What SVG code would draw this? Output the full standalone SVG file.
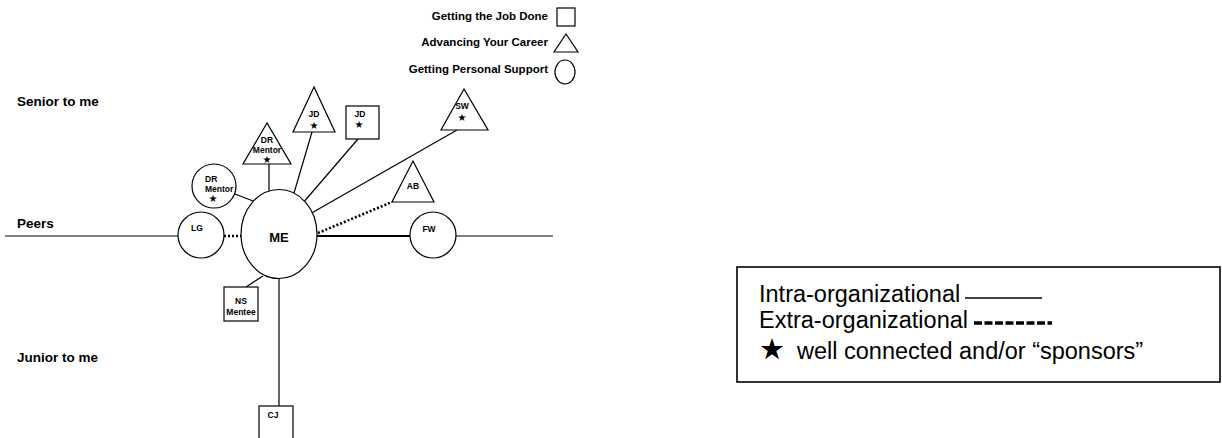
<svg xmlns="http://www.w3.org/2000/svg" width="1222" height="438" viewBox="0 0 1222 438">
<style>
.s{fill:#fff;stroke:#000;stroke-width:1.2}
.l{stroke:#000;stroke-width:1.2;fill:none}
.d{stroke:#000;stroke-width:2.6;stroke-dasharray:2 2;fill:none}
.n{font-family:"Liberation Sans",Arial,sans-serif;font-weight:bold;font-size:8.5px;fill:#000;text-anchor:middle}
.st{font-family:"DejaVu Sans",sans-serif;font-size:10px;fill:#000;text-anchor:middle}
.h{font-family:"Liberation Sans",Arial,sans-serif;font-weight:bold;font-size:13.5px;fill:#000}
.k{font-family:"Liberation Sans",Arial,sans-serif;font-weight:bold;font-size:11.5px;fill:#000;text-anchor:end}
.g{font-family:"Liberation Sans",Arial,sans-serif;font-size:23.5px;fill:#000}
</style>
<rect width="1222" height="438" fill="#fff"/>
<g id="connectors">
<line class="l" x1="5" y1="236" x2="178" y2="236"/>
<line class="l" x1="456" y1="236" x2="553" y2="236"/>
<line class="d" x1="224" y1="236" x2="242" y2="236"/>
<line class="l" x1="317" y1="236" x2="410" y2="236" style="stroke-width:2.2"/>
<line class="d" x1="318" y1="233" x2="392" y2="202"/>
<line class="l" x1="235" y1="194" x2="253" y2="201"/>
<line class="l" x1="269" y1="164" x2="269" y2="191"/>
<line class="l" x1="312" y1="132" x2="294" y2="193"/>
<line class="l" x1="358" y1="139" x2="304.6" y2="201"/>
<line class="l" x1="457" y1="130" x2="312.5" y2="212.6"/>
<line class="l" x1="263" y1="276" x2="246" y2="287"/>
<line class="l" x1="279" y1="278" x2="279" y2="406"/>
</g>
<g id="legend-types">
<text class="k" x="548" y="20">Getting the Job Done</text>
<rect class="s" x="557" y="8" width="18" height="18"/>
<text class="k" x="548" y="46">Advancing Your Career</text>
<polygon class="s" points="566,34 554,52 578,52"/>
<text class="k" x="548" y="73">Getting Personal Support</text>
<ellipse class="s" cx="565" cy="72" rx="10" ry="12"/>
</g>
<g id="levels">
<text class="h" x="17" y="106">Senior to me</text>
<text class="h" x="17" y="228">Peers</text>
<text class="h" x="17" y="362">Junior to me</text>
</g>
<g id="node-me">
<ellipse class="s" cx="279" cy="234" rx="38" ry="44.5"/>
<text class="n" x="279" y="242" style="font-size:13px">ME</text>
</g>
<g id="node-lg">
<circle class="s" cx="201" cy="235" r="23"/>
<text class="n" x="197" y="231">LG</text>
</g>
<g id="node-fw">
<circle class="s" cx="433" cy="235" r="23"/>
<text class="n" x="429" y="232">FW</text>
</g>
<g id="node-dr-circle">
<circle class="s" cx="214" cy="186" r="22"/>
<text class="n" x="205" y="182" style="text-anchor:start">DR</text>
<text class="n" x="205" y="192" style="text-anchor:start">Mentor</text>
<text class="st" x="213" y="202">★</text>
</g>
<g id="node-dr-triangle">
<polygon class="s" points="267,123 243,164 291,164"/>
<text class="n" x="267" y="143">DR</text>
<text class="n" x="267" y="153">Mentor</text>
<text class="st" x="267" y="162.5">★</text>
</g>
<g id="node-jd-triangle">
<polygon class="s" points="314,87 293,132 335,132"/>
<text class="n" x="314" y="117">JD</text>
<text class="st" x="314" y="129">★</text>
</g>
<g id="node-jd-square">
<rect class="s" x="346" y="106" width="33" height="33"/>
<text class="n" x="360" y="117">JD</text>
<text class="st" x="359" y="128">★</text>
</g>
<g id="node-sw">
<polygon class="s" points="464,89 441,130 488,130"/>
<text class="n" x="462" y="109">SW</text>
<text class="st" x="462" y="121">★</text>
</g>
<g id="node-ab">
<polygon class="s" points="413,161 392,202 434,202"/>
<text class="n" x="413" y="189">AB</text>
</g>
<g id="node-ns">
<rect class="s" x="224" y="287" width="34" height="34"/>
<text class="n" x="241" y="304">NS</text>
<text class="n" x="241" y="315">Mentee</text>
</g>
<g id="node-cj">
<rect class="s" x="259" y="406" width="34" height="40"/>
<text class="n" x="273" y="418">CJ</text>
</g>
<g id="legend-lines">
<rect x="737" y="267" width="483" height="115" fill="none" stroke="#000" stroke-width="1.6"/>
<text class="g" x="759" y="302">Intra-organizational</text>
<line x1="965" y1="298" x2="1042" y2="298" stroke="#000" stroke-width="1.3"/>
<text class="g" x="759" y="328">Extra-organizational</text>
<line x1="974" y1="323" x2="1052" y2="323" stroke="#000" stroke-width="3.5" stroke-dasharray="8 2.5"/>
<text x="759" y="359" style="font-family:'DejaVu Sans',sans-serif;font-size:29px;fill:#000">★</text>
<text class="g" x="797" y="359">well connected and/or “sponsors”</text>
</g>
</svg>
